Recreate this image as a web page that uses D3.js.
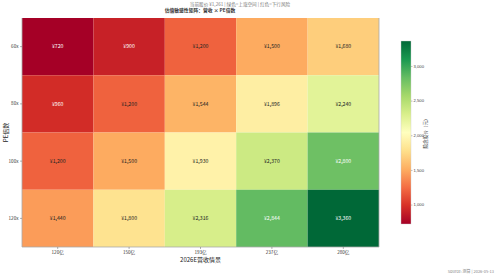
<!DOCTYPE html>
<html>
<head>
<meta charset="utf-8">
<script src="https://cdn.jsdelivr.net/npm/d3@7.9.0/dist/d3.min.js"></script>
<style>
  body { margin: 0; background: #fff; }
  svg { display: block; font-family: "Noto Sans CJK SC", "DejaVu Sans", sans-serif; }
</style>
</head>
<body>
<svg id="chart" width="500" height="279"></svg>
<script>
const revenues = ['120亿', '150亿', '193亿', '237亿', '280亿'];
const peMultiples = ['60x', '80x', '100x', '120x'];
// implied price per cell, rows = PE, cols = revenue
const prices = [
  [720, 900, 1200, 1500, 1680],
  [960, 1200, 1544, 1896, 2240],
  [1200, 1500, 1930, 2370, 2800],
  [1440, 1800, 2316, 2844, 3360],
];
const cbarTicks = [1000, 1500, 2000, 2500, 3000];

const svg = d3.select('#chart');
const plot = { left: 22, right: 379, top: 18, bottom: 247 };

const xScale = d3.scaleBand().domain(revenues).range([plot.left, plot.right]);
const yScale = d3.scaleBand().domain(peMultiples).range([plot.top, plot.bottom]);

const vmin = d3.min(prices.flat());
const vmax = d3.max(prices.flat());
const rdylgn = ['#a50026', '#d73027', '#f46d43', '#fdae61', '#fee08b', '#ffffbf',
  '#d9ef8b', '#a6d96a', '#66bd63', '#1a9850', '#006837'];
const color = d3.scaleLinear()
  .domain(d3.range(rdylgn.length).map((i) => vmin + (vmax - vmin) * i / (rdylgn.length - 1)))
  .range(rdylgn);

const cells = prices.flatMap((row, i) =>
  row.map((v, j) => ({ pe: peMultiples[i], rev: revenues[j], value: v })));

// titles
svg.append('text').attr('x', 240).attr('y', 6)
  .attr('text-anchor', 'middle').attr('font-size', 4.6).attr('fill', '#777')
  .text('当前股价 ¥1,261 | 绿色=上涨空间 | 红色=下行风险');
svg.append('text').attr('x', 200).attr('y', 12)
  .attr('text-anchor', 'middle').attr('font-size', 4.8).attr('font-weight', 'bold').attr('fill', '#333')
  .text('估值敏感性矩阵：营收 × PE倍数');

svg.append('g')
  .selectAll('rect')
  .data(cells)
  .join('rect')
  .attr('x', (d) => xScale(d.rev))
  .attr('y', (d) => yScale(d.pe))
  .attr('width', xScale.bandwidth())
  .attr('height', yScale.bandwidth())
  .attr('fill', (d) => color(d.value));

svg.append('g')
  .selectAll('text')
  .data(cells)
  .join('text')
  .attr('x', (d) => xScale(d.rev) + xScale.bandwidth() / 2)
  .attr('y', (d) => yScale(d.pe) + yScale.bandwidth() / 2)
  .attr('dy', '0.35em')
  .attr('text-anchor', 'middle')
  .attr('font-size', 5.2)
  .attr('fill', (d) => {
    const t = (d.value - vmin) / (vmax - vmin);
    return t < 0.15 || t > 0.75 ? '#fff' : '#222';
  })
  .text((d) => '¥' + d3.format(',')(d.value));

// spines
svg.append('path')
  .attr('d', `M${plot.left},${plot.top}V${plot.bottom}H${plot.right}V${plot.top}`)
  .attr('fill', 'none').attr('stroke', '#aaa').attr('stroke-width', 0.8);

const xAxis = svg.append('g')
  .attr('transform', `translate(0,${plot.bottom})`)
  .call(d3.axisBottom(xScale).tickSize(2).tickPadding(1.5));
const yAxis = svg.append('g')
  .attr('transform', `translate(${plot.left},0)`)
  .call(d3.axisLeft(yScale).tickSize(2).tickPadding(1.5));
[xAxis, yAxis].forEach((g) => {
  g.select('.domain').remove();
  g.selectAll('line').attr('stroke', '#666').attr('stroke-width', 0.5);
  g.selectAll('text').attr('font-size', 4.6).attr('fill', '#333')
    .attr('font-family', '"Noto Sans CJK SC", sans-serif');
});

svg.append('text').attr('x', (plot.left + plot.right) / 2).attr('y', 262)
  .attr('text-anchor', 'middle').attr('font-size', 6).attr('fill', '#222')
  .text('2026E营收情景');
svg.append('text')
  .attr('transform', `translate(8,${(plot.top + plot.bottom) / 2}) rotate(-90)`)
  .attr('text-anchor', 'middle').attr('font-size', 6).attr('fill', '#222')
  .text('PE倍数');

// colorbar
const cbar = { x: 401, w: 10, top: 41, bottom: 224 };
const cScale = d3.scaleLinear().domain([vmin, vmax]).range([cbar.bottom, cbar.top]);
const defs = svg.append('defs');
const grad = defs.append('linearGradient').attr('id', 'cbar-grad')
  .attr('x1', 0).attr('y1', 1).attr('x2', 0).attr('y2', 0);
grad.selectAll('stop')
  .data(rdylgn)
  .join('stop')
  .attr('offset', (d, i) => i / (rdylgn.length - 1))
  .attr('stop-color', (d) => d);
svg.append('rect')
  .attr('x', cbar.x).attr('y', cbar.top)
  .attr('width', cbar.w).attr('height', cbar.bottom - cbar.top)
  .attr('fill', 'url(#cbar-grad)').attr('stroke', '#ccc').attr('stroke-width', 0.4);
const cAxis = svg.append('g')
  .attr('transform', `translate(${cbar.x + cbar.w},0)`)
  .call(d3.axisRight(cScale).tickValues(cbarTicks).tickSize(1.5).tickPadding(1));
cAxis.select('.domain').remove();
cAxis.selectAll('line').attr('stroke', '#666').attr('stroke-width', 0.4);
cAxis.selectAll('text').attr('font-size', 4.2).attr('fill', '#444');
svg.append('text')
  .attr('transform', `translate(427,${(cbar.top + cbar.bottom) / 2}) rotate(-90)`)
  .attr('text-anchor', 'middle').attr('font-size', 4.6).attr('fill', '#444')
  .text('隐含股价（元）');

svg.append('text').attr('x', 494).attr('y', 273)
  .attr('text-anchor', 'end').attr('font-size', 4).attr('fill', '#888')
  .text('Source: 测算 | 2026-05-13');
</script>
</body>
</html>
